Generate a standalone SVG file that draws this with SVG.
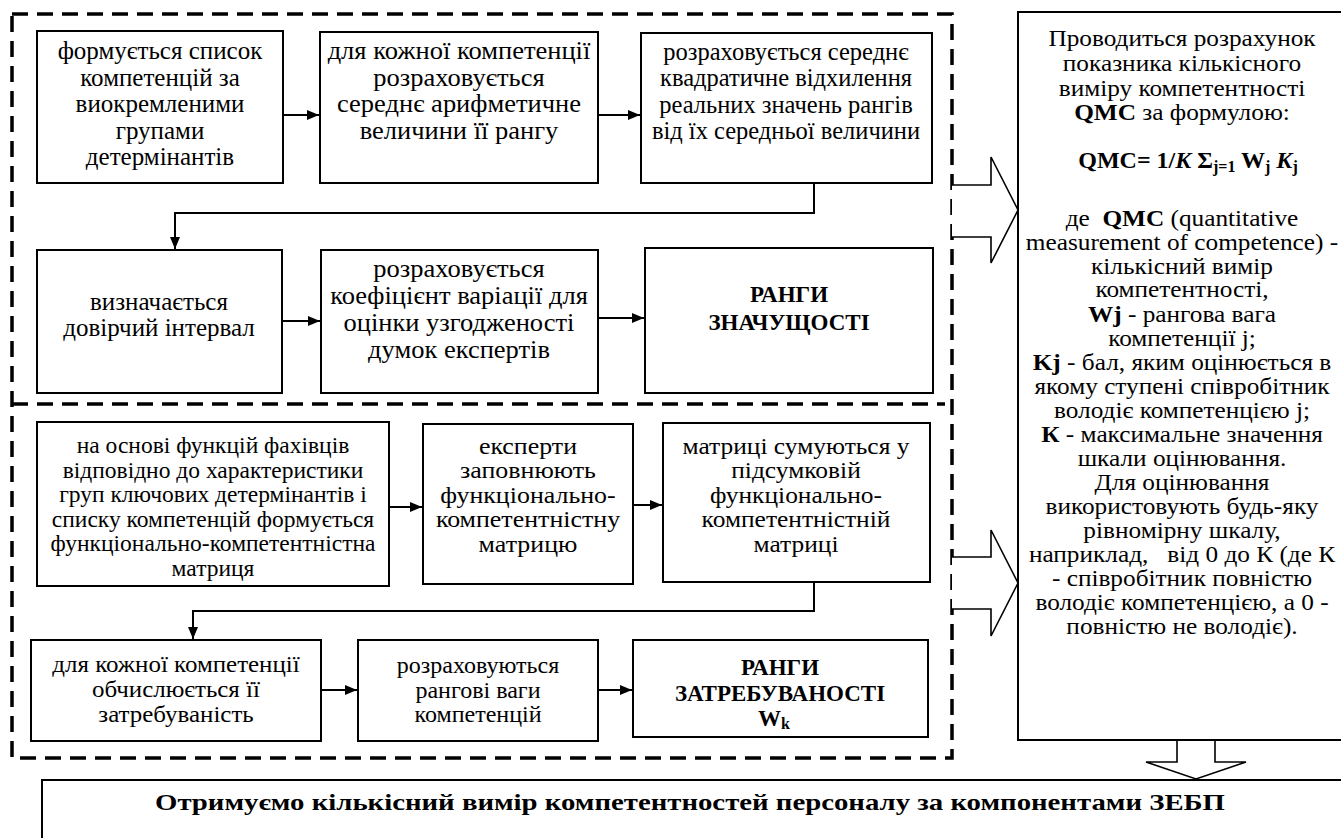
<svg xmlns="http://www.w3.org/2000/svg" width="1341" height="838" viewBox="0 0 1341 838" font-family="'Liberation Serif', 'Times New Roman', serif">
<style>
.box{fill:#fff;stroke:#000;stroke-width:2}
.t{font-family:'Liberation Serif','Times New Roman',serif;font-size:24px;text-anchor:middle;fill:#000}
.b{font-weight:bold}
.cap{font-size:23px}
.sub{font-size:16px}
.dash{fill:none;stroke:#000;stroke-width:3.5;stroke-dasharray:16 9}
.conn{fill:none;stroke:#000;stroke-width:2;marker-end:url(#ah)}
.blk{fill:#fff;stroke:#000;stroke-width:1.6}
</style>
<defs>
<marker id="ah" viewBox="0 0 12 10" markerWidth="12" markerHeight="10" refX="12" refY="5" orient="auto" markerUnits="userSpaceOnUse">
<path d="M0,0 L12,5 L0,10 z" fill="#000"/>
</marker>
</defs>
<rect width="1341" height="838" fill="#fff"/>

<g id="frame">
<path class="dash" d="M12,14 H952 V758 H12 Z"/>
<path class="dash" d="M12,404 H945"/>
</g>

<g id="connectors">
<path class="conn" d="M283,115 H319"/>
<path class="conn" d="M598,115 H640"/>
<path class="conn" d="M814,183 V213 H175 V249"/>
<path class="conn" d="M282,321 H320"/>
<path class="conn" d="M598,318 H644"/>
<path class="conn" d="M389,507 H422"/>
<path class="conn" d="M633,505 H662"/>
<path class="conn" d="M814,582 V611 H193 V639"/>
<path class="conn" d="M321,690 H357"/>
<path class="conn" d="M598,690 H632"/>
<path class="blk" d="M952,185 H991 V157 L1018,210 L991,263 V237 H952"/>
<path class="blk" d="M952,557 H991 V530 L1018,583 L991,636 V609 H952"/>
<path class="blk" d="M1177,740 V762 H1146 L1196,779 L1246,762 H1215 V740"/>
</g>

<g id="nA"><rect class="box" x="37" y="31" width="246" height="152"/>
<text class="t" style="font-size:25px"><tspan x="160" y="59">формується список</tspan><tspan x="160" y="85.5">компетенцій за</tspan><tspan x="160" y="112">виокремленими</tspan><tspan x="160" y="138.5">групами</tspan><tspan x="160" y="165">детермінантів</tspan></text></g>

<g id="nB"><rect class="box" x="320" y="32" width="278" height="151"/>
<text class="t" style="font-size:25px" transform="matrix(1.06 0 0 1 -27.54 0)"><tspan x="459" y="59.5">для кожної компетенції</tspan><tspan x="459" y="86">розраховується</tspan><tspan x="459" y="112.5">середнє арифметичне</tspan><tspan x="459" y="139">величини її рангу</tspan></text></g>

<g id="nC"><rect class="box" x="641" y="33" width="291" height="150"/>
<text class="t" style="font-size:24.5px"><tspan x="786" y="59.5">розраховується середнє</tspan><tspan x="786" y="86">квадратичне відхилення</tspan><tspan x="786" y="112.5">реальних значень рангів</tspan><tspan x="786" y="139">від їх середньої величини</tspan></text></g>

<g id="nD"><rect class="box" x="37" y="250" width="245" height="143"/>
<text class="t" style="font-size:25px"><tspan x="159" y="310">визначається</tspan><tspan x="159" y="336">довірчий інтервал</tspan></text></g>

<g id="nE"><rect class="box" x="321" y="250" width="277" height="143"/>
<text class="t" style="font-size:25px" transform="matrix(1.06 0 0 1 -27.54 0)"><tspan x="459" y="277">розраховується</tspan><tspan x="459" y="304">коефіцієнт варіації для</tspan><tspan x="459" y="331">оцінки узгодженості</tspan><tspan x="459" y="358">думок експертів</tspan></text></g>

<g id="nF"><rect class="box" x="645" y="248" width="288" height="145"/>
<text class="t b cap"><tspan x="789" y="302">РАНГИ</tspan><tspan x="789" y="330">ЗНАЧУЩОСТІ</tspan></text></g>

<g id="nG"><rect class="box" x="37" y="422" width="352" height="164"/>
<text class="t" style="font-size:23.5px"><tspan x="213" y="453">на основі функцій фахівців</tspan><tspan x="213" y="477.5">відповідно до характеристики</tspan><tspan x="213" y="502">груп ключових детермінантів і</tspan><tspan x="213" y="526.5">списку компетенцій формується</tspan><tspan x="213" y="551">функціонально-компетентністна</tspan><tspan x="213" y="575.5">матриця</tspan></text></g>

<g id="nH"><rect class="box" x="423" y="424" width="210" height="160"/>
<text class="t" transform="matrix(1.08 0 0 1 -42.24 0)"><tspan x="528" y="454">експерти</tspan><tspan x="528" y="478.5">заповнюють</tspan><tspan x="528" y="503">функціонально-</tspan><tspan x="528" y="527.5">компетентністну</tspan><tspan x="528" y="552">матрицю</tspan></text></g>

<g id="nL"><rect class="box" x="663" y="423" width="267" height="159"/>
<text class="t" transform="matrix(1.06 0 0 1 -47.76 0)"><tspan x="796" y="454">матриці сумуються у</tspan><tspan x="796" y="478.5">підсумковій</tspan><tspan x="796" y="503">функціонально-</tspan><tspan x="796" y="527.5">компетентністній</tspan><tspan x="796" y="552">матриці</tspan></text></g>

<g id="nI"><rect class="box" x="31" y="640" width="290" height="101"/>
<text class="t" transform="matrix(1.04 0 0 1 -7.04 0)"><tspan x="176" y="672.5">для кожної компетенції</tspan><tspan x="176" y="697.5">обчислюється її</tspan><tspan x="176" y="722.5">затребуваність</tspan></text></g>

<g id="nJ"><rect class="box" x="358" y="640" width="240" height="101"/>
<text class="t"><tspan x="478" y="673">розраховуються</tspan><tspan x="478" y="698">рангові ваги</tspan><tspan x="478" y="722">компетенцій</tspan></text></g>

<g id="nK"><rect class="box" x="633" y="640" width="295" height="97"/>
<text class="t b cap"><tspan x="780" y="675">РАНГИ</tspan><tspan x="780" y="701">ЗАТРЕБУВАНОСТІ</tspan><tspan x="774" y="726">W</tspan><tspan class="sub" dy="3">k</tspan></text></g>

<g id="nR"><rect class="box" x="1018" y="12" width="330" height="728"/>
<text class="t b" x="1188" y="168">QMC= 1/<tspan font-style="italic">K</tspan> Σ<tspan class="sub" dy="4">j=1</tspan><tspan dy="-4"> W</tspan><tspan class="sub" dy="4">j</tspan><tspan dy="-4"> </tspan><tspan font-style="italic">K</tspan><tspan class="sub" dy="4">j</tspan></text>
<g transform="matrix(1.1 0 0 1 -118.2 0)">
<text class="t" style="font-size:23px"><tspan x="1182" y="46">Проводиться розрахунок</tspan><tspan x="1182" y="71">показника кількісного</tspan><tspan x="1182" y="96">виміру компетентності</tspan><tspan x="1182" y="120"><tspan class="b">QMC</tspan> за формулою:</tspan></text>
<text class="t" style="font-size:23px" xml:space="preserve"><tspan x="1182" y="226">де  <tspan class="b">QMC</tspan> (quantitative</tspan><tspan x="1182" y="250">measurement of competence) -</tspan><tspan x="1182" y="274">кількісний вимір</tspan><tspan x="1182" y="297">компетентності,</tspan><tspan x="1182" y="322"><tspan class="b">Wj</tspan> - рангова вага</tspan><tspan x="1182" y="346">компетенції j;</tspan><tspan x="1182" y="370"><tspan class="b">Kj</tspan> - бал, яким оцінюється в</tspan><tspan x="1182" y="394">якому ступені співробітник</tspan><tspan x="1182" y="418">володіє компетенцією j;</tspan><tspan x="1182" y="442"><tspan class="b">К</tspan> - максимальне значення</tspan><tspan x="1182" y="466">шкали оцінювання.</tspan><tspan x="1182" y="490">Для оцінювання</tspan><tspan x="1182" y="514">використовують будь-яку</tspan><tspan x="1182" y="538">рівномірну шкалу,</tspan><tspan x="1182" y="562">наприклад,   від 0 до К (де К</tspan><tspan x="1182" y="586">- співробітник повністю</tspan><tspan x="1182" y="610">володіє компетенцією, а 0 -</tspan><tspan x="1182" y="634">повністю не володіє).</tspan></text>
</g></g>

<g id="nZ"><rect class="box" x="42" y="780" width="1310" height="100"/>
<text class="t b" x="690" y="810" textLength="1070" lengthAdjust="spacingAndGlyphs">Отримуємо кількісний вимір компетентностей персоналу за компонентами ЗЕБП</text></g>
</svg>
